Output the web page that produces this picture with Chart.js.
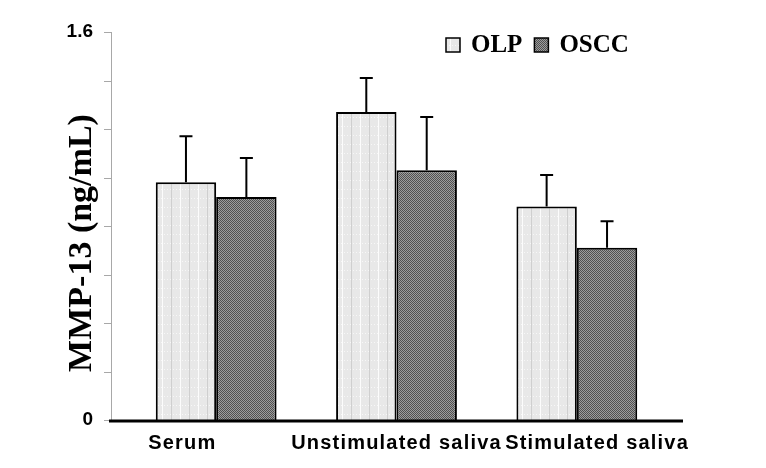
<!DOCTYPE html>
<html>
<head>
<meta charset="utf-8">
<script src="https://cdn.jsdelivr.net/npm/chart.js@4"></script>
<style>
  html, body { margin: 0; padding: 0; background: #fff; }
</style>
</head>
<body>
<canvas id="mmpChart" width="766" height="468"></canvas>
<script>
// dane
const categories = ['Serum', 'Unstimulated saliva', 'Stimulated saliva'];
const olpValues = [0.98, 1.27, 0.88];
const olpErrors = [0.19, 0.14, 0.13];
const osccValues = [0.92, 1.03, 0.71];
const osccErrors = [0.16, 0.22, 0.11];
const yLabelValues = [0, 1.6];

// przesuniecie etykiet osi X (spacje jak w oryginale)
const labelPadBefore = [0, 0, 6];
const labelPadAfter = [10, 0, 0];

const serifFont = '"Liberation Serif", "Times New Roman", serif';

const canvas = document.getElementById('mmpChart');
const mainCtx = canvas.getContext('2d');

function makePattern(w, h, paint) {
    const c = document.createElement('canvas');
    c.width = w;
    c.height = h;
    paint(c.getContext('2d'));
    return mainCtx.createPattern(c, 'repeat');
}

const olpFill = makePattern(18, 9, function(g) {
    g.fillStyle = '#e8e8e8';
    g.fillRect(0, 0, 18, 9);
    g.fillStyle = '#fcfcfc';
    g.fillRect(0, 0, 1, 9);
    g.fillStyle = '#cfcfcf';
    g.fillRect(9, 0, 1, 9);
    g.fillStyle = '#f7f7f7';
    for (let x = 2; x < 18; x += 3) g.fillRect(x, 0, 1, 1);
});

const osccFill = makePattern(2, 2, function(g) {
    g.fillStyle = '#9c9c9c';
    g.fillRect(0, 0, 2, 2);
    g.fillStyle = '#505050';
    g.fillRect(0, 0, 1, 1);
    g.fillRect(1, 1, 1, 1);
});

// slupki bledow
const errorBars = {
    id: 'errorBars',
    afterDatasetsDraw(chart) {
        const ctx = chart.ctx;
        const y = chart.scales.y;
        ctx.save();
        ctx.strokeStyle = '#000';
        ctx.lineWidth = 2;
        chart.data.datasets.forEach(function(ds, i) {
            chart.getDatasetMeta(i).data.forEach(function(bar, j) {
                const top = y.getPixelForValue(ds.data[j] + ds.errors[j]);
                ctx.beginPath();
                ctx.moveTo(bar.x, bar.y);
                ctx.lineTo(bar.x, top);
                ctx.moveTo(bar.x - 6.5, top);
                ctx.lineTo(bar.x + 6.5, top);
                ctx.stroke();
            });
        });
        ctx.restore();
    }
};

// osie w stylu Excela, legenda w polu wykresu, rozstrzelone etykiety X
const axisLines = {
    id: 'axisLines',
    afterLayout(chart) {
        const sx = chart.scales.x;
        if (!sx._spaced) {
            const orig = sx.drawLabels;
            sx.drawLabels = function(area) {
                chart.ctx.save();
                chart.ctx.letterSpacing = '1.2px';
                orig.call(this, area);
                chart.ctx.restore();
            };
            sx._spaced = true;
        }
    },
    afterDraw(chart) {
        const ctx = chart.ctx;
        const y = chart.scales.y;
        const area = chart.chartArea;
        const axisX = area.left - 15;
        ctx.save();
        ctx.strokeStyle = '#a8a8a8';
        ctx.lineWidth = 1;
        ctx.beginPath();
        ctx.moveTo(axisX + 0.5, y.getPixelForValue(1.6));
        ctx.lineTo(axisX + 0.5, y.getPixelForValue(0));
        y.ticks.forEach(function(t) {
            const py = Math.round(y.getPixelForValue(t.value)) + 0.5;
            ctx.moveTo(axisX - 7, py);
            ctx.lineTo(axisX + 0.5, py);
        });
        ctx.stroke();
        ctx.strokeStyle = '#000';
        ctx.lineWidth = 3;
        ctx.beginPath();
        const base = y.getPixelForValue(0) + 1;
        ctx.moveTo(axisX - 2, base);
        ctx.lineTo(area.right + 16, base);
        ctx.stroke();

        // legenda
        let x = area.right - 221;
        const boxTop = area.top + 6;
        ctx.font = 'bold 25px ' + serifFont;
        ctx.textBaseline = 'middle';
        ctx.textAlign = 'left';
        chart.data.datasets.forEach(function(ds) {
            ctx.fillStyle = ds.backgroundColor;
            ctx.fillRect(x, boxTop, 14, 14);
            ctx.strokeStyle = '#000';
            ctx.lineWidth = 1.5;
            ctx.strokeRect(x, boxTop, 14, 14);
            ctx.fillStyle = '#000';
            ctx.fillText(ds.label, x + 25, boxTop + 7.5);
            x += 25 + ctx.measureText(ds.label).width + 12;
        });
        ctx.restore();
    }
};

Chart.defaults.font.family = '"Liberation Sans", Arial, sans-serif';
Chart.defaults.color = '#000';

new Chart(mainCtx, {
    type: 'bar',
    data: {
        labels: categories,
        datasets: [{
            label: 'OLP',
            data: olpValues,
            errors: olpErrors,
            backgroundColor: olpFill,
            borderColor: '#000',
            borderWidth: 2,
            categoryPercentage: 0.67,
            barPercentage: 1
        }, {
            label: 'OSCC',
            data: osccValues,
            errors: osccErrors,
            backgroundColor: osccFill,
            borderColor: '#000',
            borderWidth: 2,
            categoryPercentage: 0.67,
            barPercentage: 1
        }]
    },
    options: {
        responsive: false,
        animation: false,
        layout: {
            padding: { top: 32, right: 99, left: 0, bottom: 0 }
        },
        scales: {
            x: {
                grid: { display: false, drawTicks: false },
                border: { display: false },
                afterFit: function(scale) { scale.height = 48; },
                ticks: {
                    padding: 11,
                    maxRotation: 0,
                    autoSkip: false,
                    font: { size: 20, weight: 'bold' },
                    callback: function(value, index) {
                        return ' '.repeat(labelPadBefore[index]) + categories[index] + ' '.repeat(labelPadAfter[index]);
                    }
                }
            },
            y: {
                min: 0,
                max: 1.6,
                grid: { display: false, drawTicks: false },
                border: { display: false },
                afterFit: function(scale) {
                    scale.width = 126;
                    scale.paddingTop = 0;
                    scale.paddingBottom = 0;
                },
                ticks: {
                    stepSize: 0.2,
                    padding: 33,
                    font: { size: 19, weight: 'bold' },
                    callback: function(value) {
                        const hit = yLabelValues.find(function(v) { return Math.abs(v - value) < 1e-6; });
                        return hit === undefined ? '' : String(hit);
                    }
                },
                title: {
                    display: true,
                    text: 'MMP-13 (ng/mL)    ',
                    padding: { top: 62, bottom: 0 },
                    font: { family: serifFont, size: 34, weight: 'bold' }
                }
            }
        },
        plugins: {
            legend: { display: false },
            tooltip: { enabled: false }
        }
    },
    plugins: [errorBars, axisLines]
});
</script>
</body>
</html>
